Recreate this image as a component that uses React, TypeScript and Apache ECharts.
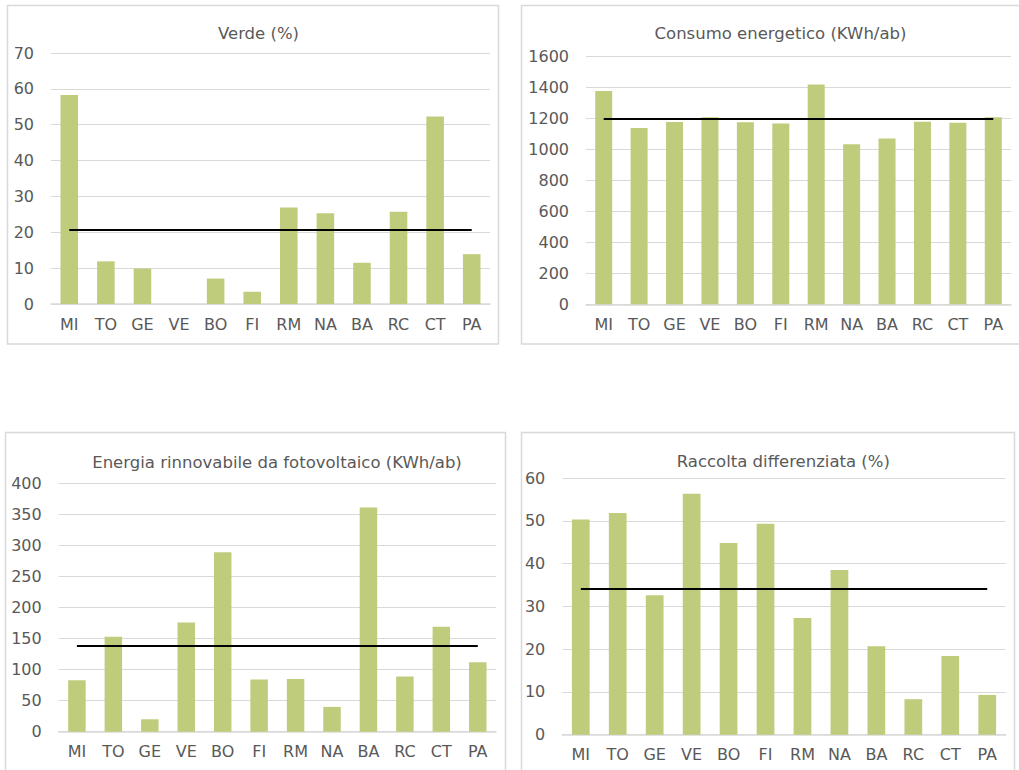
import React, { useEffect, useRef } from "react";
import * as echarts from "echarts";

const cities = ["MI", "TO", "GE", "VE", "BO", "FI", "RM", "NA", "BA", "RC", "CT", "PA"];

const verde = [58.3, 11.9, 9.9, 0, 7.1, 3.4, 26.9, 25.3, 11.5, 25.7, 52.3, 13.9];
const verdeAvg = 20.6;

const consumo = [1378, 1139, 1178, 1208, 1176, 1169, 1421, 1034, 1072, 1180, 1173, 1208];
const consumoAvg = 1197;

const fotovoltaico = [83, 153, 20, 176, 289, 84, 85, 40, 361, 89, 169, 112];
const fotovoltaicoAvg = 139;

const raccolta = [50.3, 51.8, 32.6, 56.3, 44.8, 49.3, 27.3, 38.5, 20.7, 8.3, 18.4, 9.3];
const raccoltaAvg = 34.0;

const titles = [
  "Verde (%)",
  "Consumo energetico (KWh/ab)",
  "Energia rinnovabile da fotovoltaico (KWh/ab)",
  "Raccolta differenziata (%)",
];

const yMax = [70, 1600, 400, 60];
const yInterval = [10, 200, 50, 10];

const FONT = 'Verdana, "DejaVu Sans", sans-serif';
const TEXT = "#595959";
const GRIDC = "#D9D9D9";
const BAR = "#BFCC7C";

export default function App() {
  const ref = useRef<HTMLDivElement>(null);
  useEffect(() => {
    if (!ref.current) return;
    const chart = echarts.init(ref.current, undefined, { renderer: "svg" });
    const grids = [
      { left: 51, right: 529, top: 53, bottom: 466 },
      { left: 586, right: 8, top: 56.7, bottom: 465.7 },
      { left: 58.7, right: 523, top: 483.3, bottom: 38.3 },
      { left: 562.3, right: 13.3, top: 478, bottom: 35.3 },
    ];
    const titlePos = [
      { x: 253.5, y: 19.5 },
      { x: 775.5, y: 19.5 },
      { x: 272, y: 449 },
      { x: 778.3, y: 447.5 },
    ];
    const values = [verde, consumo, fotovoltaico, raccolta];
    const avgs = [verdeAvg, consumoAvg, fotovoltaicoAvg, raccoltaAvg];
    const borders = [
      { x: 7.5, y: 5.5, width: 491, height: 338.5 },
      { x: 521.5, y: 5.5, width: 510, height: 338.5 },
      { x: 5.5, y: 432.5, width: 500, height: 400 },
      { x: 521.5, y: 432.5, width: 493, height: 400 },
    ];
    chart.setOption({
      animation: false,
      backgroundColor: "#ffffff",
      title: titles.map((t, i) => ({
        text: t,
        left: titlePos[i].x,
        top: titlePos[i].y,
        textAlign: "center",
        textStyle: { fontFamily: FONT, fontSize: 16.5, fontWeight: "normal", color: TEXT },
      })),
      graphic: borders.map((b) => ({
        type: "rect",
        shape: b,
        style: { fill: "none", stroke: GRIDC, lineWidth: 1.5 },
        z: -1,
      })),
      grid: grids,
      xAxis: grids.map((_, i) => ({
        type: "category",
        gridIndex: i,
        data: cities,
        axisTick: { show: false },
        axisLine: { lineStyle: { color: GRIDC, width: 1.5 } },
        axisLabel: { color: TEXT, fontFamily: FONT, fontSize: 16, margin: 12, interval: 0 },
      })),
      yAxis: grids.map((_, i) => ({
        type: "value",
        gridIndex: i,
        min: 0,
        max: yMax[i],
        interval: yInterval[i],
        axisLine: { show: false },
        axisTick: { show: false },
        splitLine: { lineStyle: { color: GRIDC, width: 1 } },
        axisLabel: {
          color: TEXT,
          fontFamily: FONT,
          fontSize: 16,
          margin: 17,
          formatter: (v: number) => String(v),
        },
      })),
      series: values.map((v, i) => ({
        type: "bar",
        xAxisIndex: i,
        yAxisIndex: i,
        data: v,
        barWidth: "48%",
        itemStyle: { color: BAR },
        markLine: {
          silent: true,
          symbol: "none",
          label: { show: false },
          lineStyle: { color: "#000000", width: 2, type: "solid" },
          data: [[{ coord: [0, avgs[i]] }, { coord: [cities.length - 1, avgs[i]] }]],
        },
      })),
    });
    return () => chart.dispose();
  }, []);
  return (
    <div
      ref={ref}
      style={{ position: "fixed", left: 0, top: 0, width: 1019, height: 770, background: "#fff" }}
    />
  );
}
